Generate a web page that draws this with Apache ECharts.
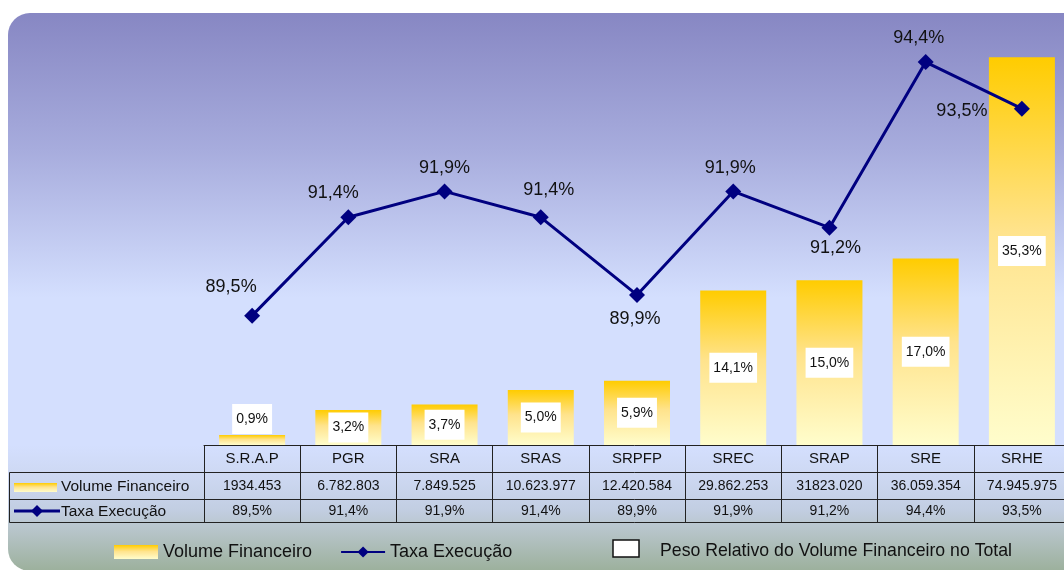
<!DOCTYPE html>
<html>
<head>
<meta charset="utf-8">
<title>Volume Financeiro e Taxa Execução</title>
<script src="https://cdn.jsdelivr.net/npm/echarts@6/dist/echarts.min.js"></script>
<style>
  html, body { margin: 0; padding: 0; background: #fff; }
  #chart { width: 1064px; height: 570px; }
</style>
</head>
<body>
<div id="chart"></div>
<script>
// dados
const categorias = ['S.R.A.P', 'PGR', 'SRA', 'SRAS', 'SRPFP', 'SREC', 'SRAP', 'SRE', 'SRHE']
const volumeFinanceiro = [1934453, 6782803, 7849525, 10623977, 12420584, 29862253, 31823020, 36059354, 74945975]
const volumeTexto = ['1934.453', '6.782.803', '7.849.525', '10.623.977', '12.420.584', '29.862.253', '31823.020', '36.059.354', '74.945.975']
const taxaExecucao = [89.5, 91.4, 91.9, 91.4, 89.9, 91.9, 91.2, 94.4, 93.5]
const pesoRelativo = [0.9, 3.2, 3.7, 5.0, 5.9, 14.1, 15.0, 17.0, 35.3]

const font = 'Liberation Sans, Arial, sans-serif'
const fmtPct = v => v.toFixed(1).replace('.', ',') + '%'

// deslocamento dos rótulos da taxa (só estilo)
const taxaLabelOffset = [[-21, -29], [-15, -24], [0, -23], [8, -27], [-2, 24], [-3, -23], [6, 20], [-7, -24], [-60, 2]]

const barGradient = () => new echarts.graphic.LinearGradient(0, 0, 0, 1, [
  { offset: 0, color: '#ffcc00' },
  { offset: 0.45, color: '#ffe38c' },
  { offset: 1, color: '#fffdcc' }
])

const chart = echarts.init(document.getElementById('chart'))

const eixoTabela = (data, offset, margin, extra) => Object.assign({
  type: 'category',
  data,
  position: 'bottom',
  offset,
  axisLine: { show: true, lineStyle: { color: '#222', width: 1 } },
  axisTick: { show: false },
  axisLabel: { show: true, interval: 0, color: '#111', fontSize: 14, fontFamily: font, margin },
  splitLine: { show: false }
}, extra)

const maxVol = Math.max(...volumeFinanceiro)

const option = {
  backgroundColor: '#fff',
  animation: false,
  grid: { left: 204, right: -6, top: 31, bottom: 125, containLabel: false, outerBoundsMode: 'none' },
  legend: {
    left: 109,
    top: 538,
    itemWidth: 44,
    itemHeight: 14,
    itemGap: 28,
    textStyle: { fontSize: 18, color: '#111', fontFamily: font },
    data: [{ name: 'Volume Financeiro', icon: 'rect' }, { name: 'Taxa Execução' }]
  },
  xAxis: [
    eixoTabela(categorias, 0, 6, {
      axisTick: { show: true, interval: 0, length: 77, lineStyle: { color: '#222', width: 1 } },
      axisLabel: { show: true, interval: 0, color: '#111', fontSize: 15, fontFamily: font, margin: 6 }
    }),
    eixoTabela(volumeTexto, 27, 7),
    eixoTabela(taxaExecucao.map(fmtPct), 54, 5),
    eixoTabela(categorias.map(() => ''), 77, 5, { axisLabel: { show: false } })
  ],
  yAxis: [
    { type: 'value', min: 0, max: 80000000, show: false, splitLine: { show: false } },
    { type: 'value', min: 87, max: 95, show: false, splitLine: { show: false } }
  ],
  series: [
    {
      name: 'Volume Financeiro',
      type: 'bar',
      xAxisIndex: 0,
      yAxisIndex: 0,
      barWidth: 66,
      itemStyle: { color: barGradient() },
      label: {
        show: true,
        formatter: p => fmtPct(pesoRelativo[p.dataIndex]),
        backgroundColor: '#fff',
        padding: [8, 4],
        color: '#111',
        fontSize: 14,
        fontFamily: font
      },
      // barra muito baixa: rótulo por cima
      data: volumeFinanceiro.map(v => ({
        value: v,
        label: { position: v < maxVol * 0.05 ? 'top' : 'inside', distance: 1 }
      }))
    },
    {
      name: 'Taxa Execução',
      type: 'line',
      xAxisIndex: 0,
      yAxisIndex: 1,
      symbol: 'diamond',
      symbolSize: 16,
      lineStyle: { color: '#000080', width: 3 },
      itemStyle: { color: '#000080' },
      label: {
        show: true,
        position: 'inside',
        formatter: p => fmtPct(p.value),
        color: '#111',
        fontSize: 18,
        fontFamily: font
      },
      data: taxaExecucao.map((v, i) => ({ value: v, label: { offset: taxaLabelOffset[i] } }))
    }
  ],
  graphic: [
    {
      type: 'rect',
      z: -10,
      silent: true,
      shape: { x: 8, y: 13, width: 1100, height: 558, r: 22 },
      style: {
        fill: new echarts.graphic.LinearGradient(0, 0, 0, 1, [
          { offset: 0, color: '#8787c3' },
          { offset: 0.245, color: '#a7acdd' },
          { offset: 0.51, color: '#d4dffe' },
          { offset: 0.775, color: '#d4dffe' },
          { offset: 0.83, color: '#cdd8f2' },
          { offset: 0.89, color: '#c2cee2' },
          { offset: 0.93, color: '#b6c4c8' },
          { offset: 1, color: '#9cb09c' }
        ])
      }
    },
    // coluna da esquerda da tabela
    { type: 'line', silent: true, shape: { x1: 9.5, y1: 472.5, x2: 204, y2: 472.5 }, style: { stroke: '#222', lineWidth: 1 } },
    { type: 'line', silent: true, shape: { x1: 9.5, y1: 499.5, x2: 204, y2: 499.5 }, style: { stroke: '#222', lineWidth: 1 } },
    { type: 'line', silent: true, shape: { x1: 9.5, y1: 522.5, x2: 204, y2: 522.5 }, style: { stroke: '#222', lineWidth: 1 } },
    { type: 'line', silent: true, shape: { x1: 9.5, y1: 472.5, x2: 9.5, y2: 522.5 }, style: { stroke: '#222', lineWidth: 1 } },
    { type: 'rect', silent: true, shape: { x: 14, y: 483, width: 43, height: 9 }, style: { fill: barGradient() } },
    { type: 'text', silent: true, x: 61, y: 487, style: { text: 'Volume Financeiro', fill: '#111', font: '15.5px ' + font, verticalAlign: 'middle' } },
    { type: 'line', silent: true, shape: { x1: 14, y1: 511, x2: 60, y2: 511 }, style: { stroke: '#000080', lineWidth: 3 } },
    { type: 'polygon', silent: true, shape: { points: [[37, 505], [43, 511], [37, 517], [31, 511]] }, style: { fill: '#000080' } },
    { type: 'text', silent: true, x: 61, y: 512, style: { text: 'Taxa Execução', fill: '#111', font: '15.5px ' + font, verticalAlign: 'middle' } },
    // terceiro item da legenda
    { type: 'rect', silent: true, shape: { x: 613, y: 540, width: 26, height: 17 }, style: { fill: '#fff', stroke: '#111', lineWidth: 1.5 } },
    { type: 'text', silent: true, x: 660, y: 551, style: { text: 'Peso Relativo do Volume Financeiro no Total', fill: '#111', font: '17.7px ' + font, verticalAlign: 'middle' } }
  ]
}

chart.setOption(option)
</script>
</body>
</html>
